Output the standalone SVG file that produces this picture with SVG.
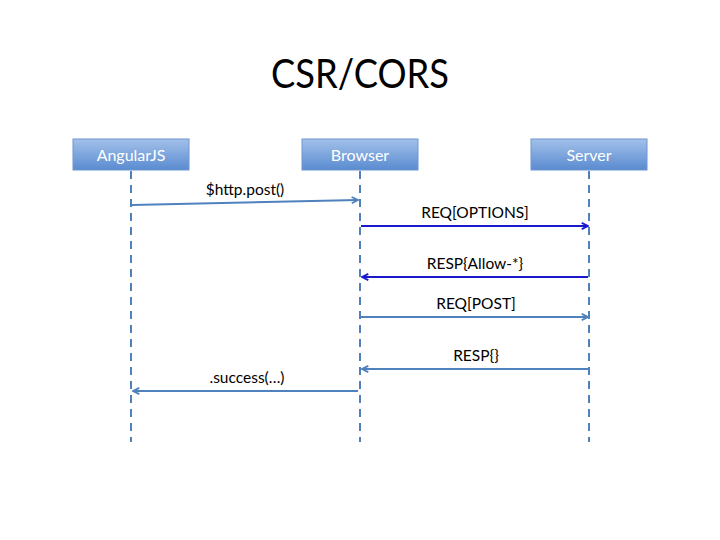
<svg xmlns="http://www.w3.org/2000/svg" width="720" height="540" viewBox="0 0 720 540">
<defs>
<linearGradient id="boxg" x1="0" y1="0" x2="0" y2="1">
<stop offset="0" stop-color="#a3c1ea"/>
<stop offset="0.5" stop-color="#7ea6dd"/>
<stop offset="1" stop-color="#5a8bd0"/>
</linearGradient>
<marker id="ah" viewBox="0 0 10 10" refX="9" refY="5" markerWidth="9" markerHeight="9" orient="auto-start-reverse" markerUnits="userSpaceOnUse">
<path d="M2,1.5 L9,5 L2,8.5" fill="none" stroke="#4f81bd" stroke-width="2"/>
</marker>
<marker id="ahb" viewBox="0 0 10 10" refX="9" refY="5" markerWidth="9" markerHeight="9" orient="auto-start-reverse" markerUnits="userSpaceOnUse">
<path d="M2,1.5 L9,5 L2,8.5" fill="none" stroke="#1a1acc" stroke-width="2"/>
</marker>
</defs>
<style>
.box{fill:url(#boxg);stroke:#6f96cf;stroke-width:1}
.bt{font-family:Lato,"Liberation Sans",Arial,sans-serif;font-size:16px;fill:#ffffff;text-anchor:middle}
.life{stroke:#4f81bd;stroke-width:2;stroke-dasharray:8,6;fill:none}
.msg{stroke:#4f81bd;stroke-width:2;fill:none;marker-end:url(#ah)}
.msgb{stroke:#1a1acc;stroke-width:2;fill:none;marker-end:url(#ahb)}
.lbl{font-family:Lato,"Liberation Sans",Arial,sans-serif;font-size:15.5px;fill:#000;text-anchor:middle}
</style>
<rect width="720" height="540" fill="#ffffff"/>
<text x="360" y="88" font-family="Lato,Liberation Sans,Arial,sans-serif" font-size="41" text-anchor="middle" textLength="178" lengthAdjust="spacingAndGlyphs">CSR/CORS</text>
<g id="lifelines">
<line class="life" x1="131" y1="171" x2="131" y2="442"/>
<line class="life" x1="360" y1="171" x2="360" y2="442"/>
<line class="life" x1="589" y1="171" x2="589" y2="442"/>
</g>
<g id="angularjs">
<rect class="box" x="73" y="139" width="116" height="31"/>
<text class="bt" x="131" y="160.5">AngularJS</text>
</g>
<g id="browser">
<rect class="box" x="302" y="139" width="116" height="31"/>
<text class="bt" x="360" y="160.5">Browser</text>
</g>
<g id="server">
<rect class="box" x="531" y="139" width="116" height="31"/>
<text class="bt" x="589" y="160.5">Server</text>
</g>
<g id="connectors">
<line class="msg" x1="132" y1="205" x2="358" y2="200"/>
<text class="lbl" x="245" y="195">$http.post()</text>
<line class="msgb" x1="361" y1="226" x2="588" y2="226"/>
<text class="lbl" x="475" y="218">REQ[OPTIONS]</text>
<line class="msgb" x1="588" y1="277" x2="362" y2="277"/>
<text class="lbl" x="475" y="269">RESP{Allow-*}</text>
<line class="msg" x1="361" y1="317" x2="588" y2="317"/>
<text class="lbl" x="476" y="309">REQ[POST]</text>
<line class="msg" x1="588" y1="369" x2="362" y2="369"/>
<text class="lbl" x="476" y="361">RESP{}</text>
<line class="msg" x1="358" y1="391" x2="133" y2="391"/>
<text class="lbl" x="247" y="383">.success(…)</text>
</g>
</svg>
